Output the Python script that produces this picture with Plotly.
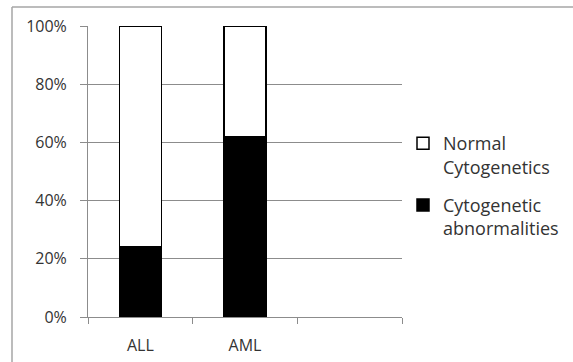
import plotly.graph_objects as go

# Share of patients by cytogenetic status, per leukemia type
categories = ["ALL", "AML"]
abnormal = [0.24, 0.62]
normal = [0.76, 0.38]
n_slots = 3  # the category axis has room for three groups

FONT = "Open Sans"
GRID = "#8c8c8c"
TEXT = "#333333"

positions = list(range(len(categories)))

fig = go.Figure()
fig.add_trace(go.Bar(
    x=positions, y=abnormal, name="Cytogenetic<br>abnormalities",
    legendgroup="abn", legendrank=2,
    marker=dict(color="black", line=dict(color="black", width=1.5)),
    width=0.4,
))
fig.add_trace(go.Bar(
    x=positions, y=normal, name="Normal<br>Cytogenetics",
    legendgroup="norm", legendrank=1,
    marker=dict(color="white", line=dict(color="black", width=1.5)),
    width=0.4,
))

boundaries = [i - 0.5 for i in range(n_slots + 1)]

fig.update_layout(
    width=573, height=362,
    margin=dict(l=88, r=171, t=26, b=45, autoexpand=False),
    barmode="stack",
    paper_bgcolor="white", plot_bgcolor="white",
    font=dict(family=FONT, size=16, color=TEXT),
    showlegend=True,
    legend=dict(
        traceorder="grouped",
        xref="container", yref="container",
        x=403 / 573, xanchor="left", y=1 - 186 / 362, yanchor="middle",
        valign="top",
        font=dict(family=FONT, size=18, color=TEXT),
        itemwidth=30, tracegroupgap=12,
        bgcolor="rgba(0,0,0,0)",
    ),
    xaxis=dict(
        range=[-0.5, n_slots - 0.5],
        tickmode="array", tickvals=boundaries, ticktext=[""] * len(boundaries),
        ticks="outside", ticklen=6, tickcolor=GRID, tickwidth=1,
        showline=True, linecolor=GRID, linewidth=1,
        showgrid=False, zeroline=False, fixedrange=True, automargin=False,
    ),
    xaxis2=dict(
        overlaying="x", matches="x", side="bottom",
        tickmode="array", tickvals=positions, ticktext=categories,
        ticks="", showline=False, showgrid=False, zeroline=False,
        ticklabelstandoff=17, automargin=False,
        tickfont=dict(family=FONT, size=16, color=TEXT),
    ),
    yaxis=dict(
        range=[0, 1], tickmode="linear", tick0=0, dtick=0.2,
        tickformat=".0%",
        ticks="outside", ticklen=7, tickcolor=GRID, tickwidth=1,
        ticklabelstandoff=10, automargin=False,
        showline=True, linecolor=GRID, linewidth=1,
        showgrid=True, gridcolor=GRID, gridwidth=1,
        zeroline=False,
        tickfont=dict(family=FONT, size=16, color=TEXT),
    ),
)

# invisible trace to carry the category labels on the second x axis
fig.add_trace(go.Scatter(x=positions, y=[0, 0], xaxis="x2", mode="markers",
                         marker=dict(opacity=0), showlegend=False, hoverinfo="skip"))

# frame around the chart area (top and left edges)
fig.add_shape(type="line", xref="paper", yref="paper",
              x0=(12 - 88) / 314, x1=(573 - 88) / 314, y0=(362 - 45 - 7) / 291, y1=(362 - 45 - 7) / 291,
              line=dict(color="#a6a6a6", width=1.5))
fig.add_shape(type="line", xref="paper", yref="paper",
              x0=(12 - 88) / 314, x1=(12 - 88) / 314, y0=(362 - 45 - 7) / 291, y1=-45 / 291,
              line=dict(color="#a6a6a6", width=1.5))

fig.write_html("out.html")
